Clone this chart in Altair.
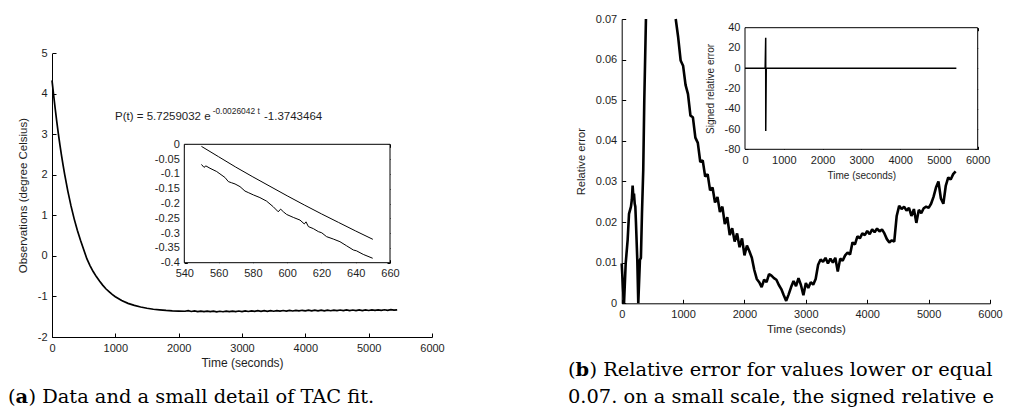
import altair as alt
import pandas as pd

# ---------------- data ----------------
# (a) main: observations of the TAC cooling curve
obs_time = [0, 25, 50, 75, 100, 125, 150, 175, 200,
            250, 300, 350, 400, 450, 500, 550, 600, 650, 700, 750, 800, 850, 900, 950, 1000,
            1100, 1200, 1300, 1400, 1500, 1600, 1700, 1800, 1900, 2000] + list(range(2100, 5451, 50))
obs_temp = [4.33, 3.98, 3.64, 3.32, 3.02, 2.74, 2.48, 2.24, 2.01,
            1.60, 1.235, 0.915, 0.635, 0.385, 0.160, -0.068, -0.237, -0.385, -0.51, -0.62, -0.72, -0.81, -0.88, -0.95, -1.005,
            -1.10, -1.17, -1.22, -1.26, -1.29, -1.315, -1.33, -1.345, -1.355, -1.36,
            -1.365, -1.352, -1.370, -1.358, -1.373, -1.360, -1.375, -1.362, -1.376, -1.363,
            -1.378, -1.365, -1.377, -1.362, -1.375, -1.360, -1.374, -1.359, -1.372, -1.357,
            -1.371, -1.355, -1.369, -1.352, -1.366, -1.350, -1.365, -1.349, -1.364, -1.348,
            -1.362, -1.346, -1.360, -1.344, -1.358, -1.342, -1.357, -1.341, -1.356, -1.339,
            -1.355, -1.338, -1.354, -1.337, -1.353, -1.338, -1.352, -1.336, -1.350, -1.334,
            -1.349, -1.333, -1.348, -1.334, -1.349, -1.333, -1.347, -1.332, -1.346, -1.331,
            -1.344, -1.329, -1.343, -1.328, -1.341, -1.327, -1.338, -1.330]

# (a) inset: fitted curve and data between 550 s and 650 s
fit_time = [550, 560, 570, 580, 590, 600, 610, 620, 630, 640, 650]
fit_temp = [-0.007, -0.042, -0.077, -0.110, -0.142, -0.174, -0.205, -0.235, -0.264, -0.293, -0.321]
detail_time = [550, 551.5, 552.6, 555, 558.9, 560.8, 563.7, 565.7, 567.6, 569.6,
               572.5, 575.4, 577.3, 580.3, 584.1, 588.0, 591.9, 594.8, 596.2, 597.8,
               599.7, 603.6, 607.5, 610.0, 611.0, 612.4, 615.3, 618.2, 620.2, 623.0,
               626.9, 630.8, 634.7, 638.6, 640.5, 644.4, 649.9]
detail_temp = [-0.068, -0.078, -0.073, -0.081, -0.092, -0.100, -0.112, -0.126, -0.130, -0.134,
               -0.143, -0.158, -0.163, -0.171, -0.180, -0.192, -0.211, -0.228, -0.219, -0.228,
               -0.237, -0.247, -0.256, -0.269, -0.262, -0.278, -0.285, -0.295, -0.299, -0.312,
               -0.320, -0.329, -0.343, -0.357, -0.360, -0.372, -0.385]

# (b) main: relative error (<= 0.07); two visible pieces
rel_time_1 = [0, 20, 38, 65, 97, 119, 151, 165, 178, 190, 200, 212, 222, 232, 254, 270,
              297, 313, 330, 351, 368, 395]
rel_err_1 = [0.0098, 0.004, 0.0, 0.0098, 0.0156, 0.022, 0.0238, 0.0255, 0.029, 0.0262, 0.027,
             0.0245, 0.0238, 0.020, 0.0107, 0.0, 0.0107, 0.0112, 0.022, 0.0328, 0.050, 0.070]
rel_time_2 = list(range(880, 5441, 40))
rel_err_2 = [0.0700, 0.0655, 0.0598, 0.0585, 0.0538, 0.0515, 0.0462, 0.0458, 0.0408, 0.0395,
             0.0348, 0.0352, 0.0312, 0.0318, 0.0278, 0.0285, 0.0248, 0.0262, 0.0225, 0.0238,
             0.0195, 0.0212, 0.0168, 0.0185, 0.0152, 0.0172, 0.0138, 0.0160, 0.0118, 0.0142,
             0.0128, 0.0112, 0.0082, 0.0060, 0.0052, 0.0040, 0.0058, 0.0052, 0.0072, 0.0068,
             0.0062, 0.0058, 0.0045, 0.0035, 0.0020, 0.0006, 0.0022, 0.0040, 0.0055, 0.0042,
             0.0062, 0.0045, 0.0020, 0.0050, 0.0038, 0.0052, 0.0046, 0.0060, 0.0095, 0.0108,
             0.0102, 0.0112, 0.0098, 0.0110, 0.0100, 0.0112, 0.0078, 0.0110, 0.0105, 0.0118,
             0.0125, 0.0120, 0.0150, 0.0145, 0.0165, 0.0160, 0.0172, 0.0168, 0.0178, 0.0170,
             0.0182, 0.0175, 0.0184, 0.0177, 0.0182, 0.0172, 0.0158, 0.0150, 0.0155, 0.0152,
             0.0215, 0.0240, 0.0232, 0.0238, 0.0228, 0.0235, 0.0215, 0.0232, 0.0198, 0.0230,
             0.0222, 0.0234, 0.0238, 0.0235, 0.0245, 0.0262, 0.0285, 0.0300, 0.0258, 0.0245,
             0.0290, 0.0310, 0.0305, 0.0318, 0.0325]

# (b) inset: signed relative error
sig_time = [0, 300, 520, 534, 535, 548, 5450]
sig_err = [0, 0, 0, 30, -62, 0, 0]

# tick values
ticks_a_x = [0, 1000, 2000, 3000, 4000, 5000, 6000]
ticks_a_y = [-2, -1, 0, 1, 2, 3, 4, 5]
ticks_ai_x = [540, 560, 580, 600, 620, 640, 660]
ticks_ai_y = [-0.4, -0.35, -0.3, -0.25, -0.2, -0.15, -0.1, -0.05, 0]
ticks_b_x = [0, 1000, 2000, 3000, 4000, 5000, 6000]
ticks_b_y = [0, 0.01, 0.02, 0.03, 0.04, 0.05, 0.06, 0.07]
ticks_bi_x = [0, 1000, 2000, 3000, 4000, 5000, 6000]
ticks_bi_y = [-80, -60, -40, -20, 0, 20, 40]

formula_parts = ["P(t) = 5.7259032 e", "-0.0026042 t", "-1.3743464"]
caption_a = ["(", "a", ") Data and a small detail of TAC fit."]
caption_b1 = ["(", "b", ") Relative error for values lower or equal"]
caption_b2 = "0.07. on a small scale, the signed relative e"

# ---------------- layout ----------------
W, H = 995, 401
PANELS = {
    "a": dict(xd=[0, 6000], yd=[-2, 5], xr=[44, 424], yr=[329, 45.3], tick=4),
    "ai": dict(xd=[540, 660], yd=[-0.4, 0], xr=[176.3, 382], yr=[254.7, 136.3], tick=3),
    "b": dict(xd=[0, 6000], yd=[0, 0.07], xr=[613.7, 982], yr=[295.3, 11], tick=4),
    "bi": dict(xd=[0, 6000], yd=[-80, 40], xr=[737, 969.7], yr=[141.3, 19.7], tick=3),
}
FONT = "Liberation Sans"
SERIF = "DejaVu Serif"
TXT = "#1e1e1e"
CAP = 19.4


def xs(p):
    P = PANELS[p]
    return alt.Scale(domain=P["xd"], range=P["xr"], nice=False, zero=False)


def ys(p):
    P = PANELS[p]
    return alt.Scale(domain=P["yd"], range=P["yr"], nice=False, zero=False)


def label_axis(p, orient, values, title, tsize, tpad, domain):
    P = PANELS[p]
    if orient == "bottom":
        off = P["yr"][0] - H
    else:
        off = -P["xr"][0]
    kw = dict(orient=orient, offset=off, values=values, ticks=False, domain=domain,
              domainColor="black", domainWidth=1, grid=False, labelFont=FONT,
              labelFontSize=11, labelColor=TXT, labelPadding=5, labelOverlap=False,
              labelFlush=False, labelExpr="'' + datum.value", title=title)
    if title:
        kw.update(titleFont=FONT, titleFontSize=tsize, titleFontWeight="normal",
                  titleColor=TXT, titlePadding=tpad)
    return alt.Axis(**kw)


def tick_layer(p, xvals, yvals, far=False):
    P = PANELS[p]
    t = P["tick"]
    xl, xr = P["xr"]
    yb, yt = P["yr"]
    common = dict(ticks=True, tickSize=t, tickColor="black", tickWidth=1, domain=False,
                  labels=False, grid=False, title=None)
    if far:
        ax_x = alt.Axis(orient="top", offset=-(yt + t), values=xvals, **common)
        ax_y = alt.Axis(orient="right", offset=(xr - t) - W, values=yvals, **common)
    else:
        ax_x = alt.Axis(orient="bottom", offset=(yb - t) - H, values=xvals, **common)
        ax_y = alt.Axis(orient="left", offset=-(xl + t), values=yvals, **common)
    df = pd.DataFrame({"x": [P["xd"][0]], "y": [P["yd"][0]]})
    return alt.Chart(df).mark_point(opacity=0, size=1).encode(
        x=alt.X("x:Q", scale=xs(p), axis=ax_x),
        y=alt.Y("y:Q", scale=ys(p), axis=ax_y),
    )


def frame(p):
    P = PANELS[p]
    df = pd.DataFrame({"x0": [P["xd"][0]], "x1": [P["xd"][1]],
                       "y0": [P["yd"][0]], "y1": [P["yd"][1]]})
    return alt.Chart(df).mark_rect(fill="white", stroke="black", strokeWidth=1).encode(
        x=alt.X("x0:Q", scale=xs(p), axis=None), x2="x1:Q",
        y=alt.Y("y0:Q", scale=ys(p), axis=None), y2="y1:Q",
    )


def text_px(txt, x, y, size, font, weight="normal"):
    return alt.Chart(pd.DataFrame({"s": [txt]})).mark_text(
        align="left", baseline="alphabetic", font=font, fontSize=size,
        fontWeight=weight, color="black",
    ).encode(x=alt.value(x), y=alt.value(y), text="s:N")


def text_data(p, txt, xv, yv, size):
    df = pd.DataFrame({"s": [txt], "x": [xv], "y": [yv]})
    return alt.Chart(df).mark_text(
        align="left", baseline="alphabetic", font=FONT, fontSize=size, color=TXT,
    ).encode(
        x=alt.X("x:Q", scale=xs(p), axis=None),
        y=alt.Y("y:Q", scale=ys(p), axis=None),
        text="s:N",
    )


# ---------------- panel (a) ----------------
obs_df = pd.DataFrame({"t": obs_time, "v": obs_temp})
a_main = alt.Chart(obs_df).mark_line(color="black", strokeWidth=1.7).encode(
    x=alt.X("t:Q", scale=xs("a"),
            axis=label_axis("a", "bottom", ticks_a_x, "Time (seconds)", 12, 4, True)),
    y=alt.Y("v:Q", scale=ys("a"),
            axis=label_axis("a", "left", ticks_a_y, "Observations (degree Celsius)", 11.5, 9, True)),
)
a_ticks = tick_layer("a", ticks_a_x, ticks_a_y)

inset_a_df = pd.concat([
    pd.DataFrame({"t": fit_time, "v": fit_temp, "s": "fit"}),
    pd.DataFrame({"t": detail_time, "v": detail_temp, "s": "data"}),
])
a_inset = alt.Chart(inset_a_df).mark_line(color="black", strokeWidth=1).encode(
    x=alt.X("t:Q", scale=xs("ai"), axis=label_axis("ai", "bottom", ticks_ai_x, None, 10, 4, False)),
    y=alt.Y("v:Q", scale=ys("ai"), axis=label_axis("ai", "left", ticks_ai_y, None, 10, 4, False)),
    detail="s:N",
)

formula = [
    text_data("a", formula_parts[0], 995, 3.36, 11.5),
    text_data("a", formula_parts[1], 2537, 3.51, 8.4),
    text_data("a", formula_parts[2], 3347, 3.36, 11.5),
]

# ---------------- panel (b) ----------------
rel_df = pd.concat([
    pd.DataFrame({"t": rel_time_1, "v": rel_err_1, "seg": "1"}),
    pd.DataFrame({"t": rel_time_2, "v": rel_err_2, "seg": "2"}),
])
b_main = alt.Chart(rel_df).mark_line(color="black", strokeWidth=2.6, strokeJoin="bevel").encode(
    x=alt.X("t:Q", scale=xs("b"),
            axis=label_axis("b", "bottom", ticks_b_x, "Time (seconds)", 11.5, 4, True)),
    y=alt.Y("v:Q", scale=ys("b"),
            axis=label_axis("b", "left", ticks_b_y, "Relative error", 11.2, 9, True)),
    detail="seg:N",
)
b_ticks = tick_layer("b", ticks_b_x, ticks_b_y)

sig_df = pd.DataFrame({"t": sig_time, "v": sig_err})
b_inset = alt.Chart(sig_df).mark_line(color="black", strokeWidth=1.5).encode(
    x=alt.X("t:Q", scale=xs("bi"),
            axis=label_axis("bi", "bottom", ticks_bi_x, "Time (seconds)", 10, 5, False)),
    y=alt.Y("v:Q", scale=ys("bi"),
            axis=label_axis("bi", "left", ticks_bi_y, "Signed relative error", 10, 9, False)),
)

# ---------------- captions ----------------
captions = [
    text_px(caption_a[0], 0, 395, CAP, SERIF),
    text_px(caption_a[1], 7.6, 395, CAP, SERIF, "bold"),
    text_px(caption_a[2], 20.5, 395, CAP, SERIF),
    text_px(caption_b1[0], 560, 368, CAP, SERIF),
    text_px(caption_b1[1], 567.6, 368, CAP, SERIF, "bold"),
    text_px(caption_b1[2], 581.5, 368, CAP, SERIF),
    text_px(caption_b2, 560, 395, CAP, SERIF),
]

layers = [
    a_main, a_ticks,
    frame("ai"), a_inset, tick_layer("ai", ticks_ai_x, ticks_ai_y),
    tick_layer("ai", ticks_ai_x, ticks_ai_y, far=True),
    *formula,
    b_main, b_ticks,
    frame("bi"), b_inset, tick_layer("bi", ticks_bi_x, ticks_bi_y),
    tick_layer("bi", ticks_bi_x, ticks_bi_y, far=True),
    *captions,
]

chart = alt.layer(*layers).resolve_scale(x="independent", y="independent").properties(
    width=W, height=H, padding=0, autosize=alt.AutoSizeParams(type="none"),
).configure_view(stroke=None)

chart.save("out.html", embed_options={"renderer": "svg", "actions": False})
